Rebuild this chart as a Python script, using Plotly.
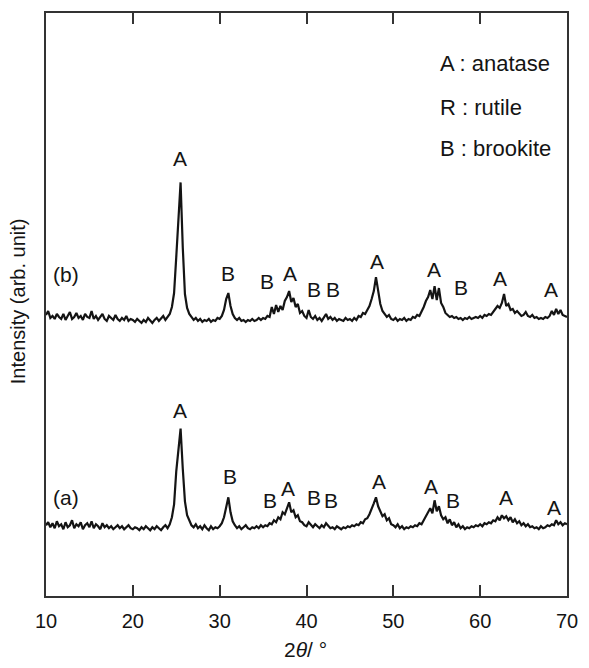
import numpy as np
import plotly.graph_objects as go

# 2-theta grid (degrees), 0.25 deg step from 10 to 70
two_theta = [round(10 + 0.25 * i, 2) for i in range(241)]

# Intensity of sample (b), arbitrary units (offset upward)
intensity_b = [
    282, 286, 279, 281, 278, 283, 280, 278, 283, 277, 281, 285, 278, 280, 284, 279, 281, 277, 283, 280,
    279, 286, 278, 281, 277, 280, 283, 278, 276, 281, 279, 277, 282, 278, 276, 279, 277, 281, 276, 278,
    277, 275, 278, 276, 274, 277, 275, 279, 276, 274, 277, 279, 276, 278, 281, 277, 280, 283, 290, 304,
    340, 378, 415, 350, 303, 289, 283, 280, 277, 279, 276, 278, 275, 277, 276, 278, 275, 277, 276, 279,
    278, 281, 287, 298, 304, 291, 283, 279, 277, 279, 276, 277, 275, 277, 276, 278, 276, 277, 279, 277,
    279, 278, 281, 280, 290, 283, 292, 285, 291, 287, 296, 300, 306, 295, 299, 290, 293, 284, 286, 281,
    279, 287, 280, 278, 281, 277, 279, 276, 280, 283, 278, 280, 277, 279, 276, 278, 277, 276, 279, 277,
    278, 276, 279, 277, 281, 280, 284, 283, 287, 291, 298, 306, 320, 305, 293, 286, 283, 280, 282, 278,
    277, 279, 276, 278, 277, 279, 276, 278, 277, 280, 279, 282, 281, 285, 290, 296, 300, 307, 298, 311,
    297, 309, 294, 290, 284, 282, 280, 281, 279, 280, 278, 279, 277, 279, 278, 280, 278, 279, 280, 279,
    281, 279, 282, 281, 283, 282, 285, 288, 291, 289, 294, 303, 291, 293, 287, 288, 284, 286, 283, 281,
    282, 285, 281, 280, 282, 279, 280, 278, 279, 278, 280, 279, 281, 286, 282, 288, 283, 287, 282, 281,
    280,
]

# Intensity of sample (a), arbitrary units
intensity_a = [
    71, 74, 69, 73, 68, 75, 70, 72, 67, 74, 69, 71, 76, 68, 72, 70, 74, 67, 71, 73,
    69, 75, 68, 72, 70, 67, 73, 69, 71, 68, 70, 67, 69, 71, 68, 70, 67, 69, 71, 68,
    67, 69, 68, 66, 69, 67, 70, 68, 66, 69, 67, 70, 68, 66, 69, 71, 68, 72, 79, 92,
    125, 150, 168, 128, 95, 81, 75, 71, 69, 72, 68, 70, 67, 71, 68, 66, 70, 67, 69, 68,
    70, 73, 79, 90, 99, 84, 75, 71, 68, 70, 67, 69, 71, 68, 67, 69, 68, 70, 68, 71,
    69, 71, 70, 73, 72, 76, 74, 79, 77, 84, 82, 88, 94, 84, 86, 79, 81, 75, 74, 71,
    70, 74, 71, 69, 72, 70, 68, 71, 69, 73, 70, 68, 69, 67, 70, 68, 67, 69, 68, 70,
    69, 71, 70, 72, 71, 74, 73, 77, 78, 82, 87, 93, 99, 90, 85, 80, 82, 76, 78, 72,
    71, 69, 72, 68, 70, 67, 69, 68, 70, 69, 71, 70, 73, 72, 76, 80, 84, 88, 83, 96,
    85, 90, 81, 77, 79, 73, 77, 71, 74, 69, 72, 68, 70, 67, 69, 68, 70, 69, 71, 70,
    72, 70, 73, 72, 74, 73, 76, 75, 79, 76, 81, 78, 80, 76, 79, 74, 77, 73, 75, 71,
    73, 70, 72, 69, 70, 68, 69, 67, 70, 68, 69, 71, 70, 72, 71, 76, 72, 74, 71, 73,
    72,
]

# Phase labels for each pattern: text, 2-theta position, label height
labels_b_text = ["A", "B", "B", "A", "B", "B", "A", "A", "B", "A", "A"]
labels_b_x = [25.45, 30.97, 35.5, 38.1, 40.9, 43.0, 48.1, 54.7, 57.8, 62.3, 68.2]
labels_b_y = [439, 324, 316, 324, 308, 308, 336, 328, 310, 319, 308]

labels_a_text = ["A", "B", "B", "A", "B", "B", "A", "A", "B", "A", "A"]
labels_a_x = [25.45, 31.2, 35.8, 37.85, 40.9, 42.8, 48.4, 54.3, 56.9, 63.0, 68.5]
labels_a_y = [186, 120, 96, 108, 99, 96, 115, 110, 96, 99, 89]

sample_names = ["(a)", "(b)"]
sample_label_y = [99, 323]

legend_lines = ["A : anatase", "R : rutile", "B : brookite"]
legend_y = [534, 490, 449]

x_ticks = [10, 20, 30, 40, 50, 60, 70]

FONT = "Liberation Sans, Arial, sans-serif"
INK = "#141414"
LBL = 21

fig = go.Figure()
for y_vals in (intensity_a, intensity_b):
    fig.add_trace(go.Scatter(
        x=two_theta, y=y_vals, mode="lines",
        line=dict(color=INK, width=2.2), showlegend=False, hoverinfo="skip",
    ))

annotations = []
for texts, xs, ys in ((labels_b_text, labels_b_x, labels_b_y),
                      (labels_a_text, labels_a_x, labels_a_y)):
    for t, xv, yv in zip(texts, xs, ys):
        annotations.append(dict(x=xv, y=yv, xref="x", yref="y", text=t,
                                xanchor="center", yanchor="middle",
                                showarrow=False, font=dict(size=LBL, color=INK, family=FONT)))

for name, yv in zip(sample_names, sample_label_y):
    annotations.append(dict(x=12.25, y=yv, xref="x", yref="y", text=name,
                            xanchor="center", yanchor="middle",
                            showarrow=False, font=dict(size=LBL, color=INK, family=FONT)))

for t, yv in zip(legend_lines, legend_y):
    annotations.append(dict(x=55.1, y=yv, xref="x", yref="y", text=t,
                            xanchor="left", yanchor="middle",
                            showarrow=False, font=dict(size=LBL + 1, color=INK, family=FONT)))

# axis titles
annotations.append(dict(x=-0.0545, y=0.505, xref="paper", yref="paper",
                        xanchor="center", yanchor="middle",
                        text="Intensity (arb. unit)", textangle=-90, showarrow=False,
                        font=dict(size=20, color=INK, family=FONT)))
annotations.append(dict(x=0.498, y=-0.092, xref="paper", yref="paper",
                        xanchor="center", yanchor="middle",
                        text="2<i>θ</i>/ °", showarrow=False,
                        font=dict(size=21, color=INK, family=FONT)))

fig.update_layout(
    width=589, height=668,
    margin=dict(l=46, r=11, t=11, b=72),
    paper_bgcolor="white", plot_bgcolor="white",
    annotations=annotations,
    xaxis=dict(
        range=[10, 70], tickvals=x_ticks, ticktext=[str(v) for v in x_ticks],
        ticks="inside", ticklen=11, tickwidth=2, tickcolor="#333",
        showline=True, linecolor="#333", linewidth=2, mirror="ticks",
        showgrid=False, zeroline=False, ticklabelstandoff=6,
        tickfont=dict(size=20, color=INK, family=FONT),
    ),
    yaxis=dict(
        range=[0, 585], showticklabels=False, ticks="",
        showline=True, linecolor="#333", linewidth=2, mirror=True,
        showgrid=False, zeroline=False,
    ),
)

fig.write_html("out.html")
